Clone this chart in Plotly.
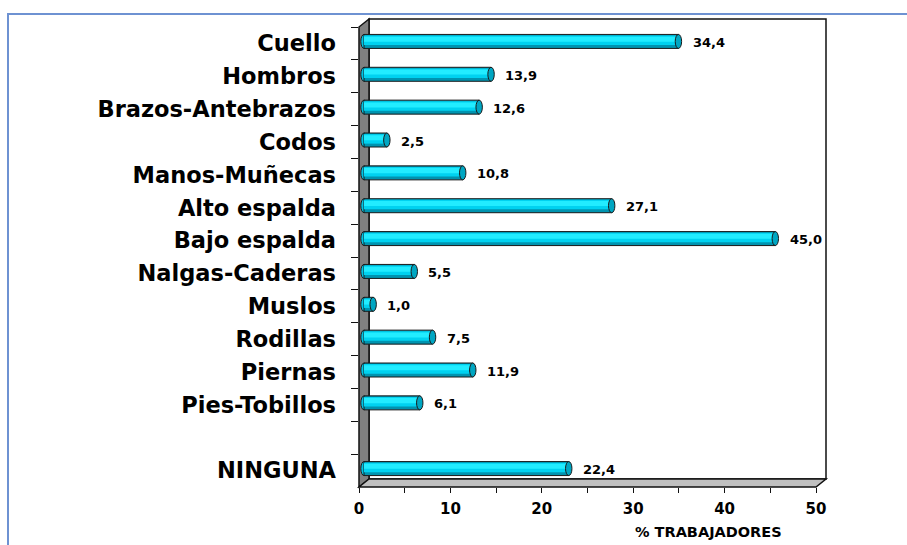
import plotly.graph_objects as go

categories = ["Cuello", "Hombros", "Brazos-Antebrazos", "Codos", "Manos-Muñecas",
              "Alto espalda", "Bajo espalda", "Nalgas-Caderas", "Muslos", "Rodillas",
              "Piernas", "Pies-Tobillos", " ", "NINGUNA"]
values = [34.4, 13.9, 12.6, 2.5, 10.8, 27.1, 45.0, 5.5, 1.0, 7.5, 11.9, 6.1, None, 22.4]
x_ticks = [0, 10, 20, 30, 40, 50]
x_title = "% TRABAJADORES"

FONT = "DejaVu Sans"
W_FIG, H_FIG = 907, 545
L, R, T, B = 359, 816, 27, 487
PW, PH = R - L, B - T
DX, DY = 10, 8          # 3D depth offset (px)
BDX, BDY = 5, 2         # bar offset (px)
XMAX = 50
n = len(categories)
ux = PW / XMAX          # px per unit
uy = PH / n             # px per category


def px(x):
    return (x - L) / PW


def py(y):
    return (B - y) / PH


def path(points):
    return "M " + " L ".join(f"{px(a)},{py(b)}" for a, b in points) + " Z"


fig = go.Figure()

# invisible trace registering categories on the front axes
fig.add_trace(go.Scatter(x=[0] * n, y=categories, mode="markers", marker=dict(opacity=0),
                         hoverinfo="skip", showlegend=False, xaxis="x", yaxis="y"))

idx = list(range(n))
bw = 14 / uy
# cylinder body layers
fig.add_trace(go.Bar(x=values, y=idx, orientation="h", width=bw,
                     marker=dict(color="#0094B0", line=dict(color="#1A1A1A", width=1)),
                     xaxis="x2", yaxis="y2", showlegend=False, hoverinfo="skip"))
fig.add_trace(go.Bar(x=values, y=idx, orientation="h", width=bw * 0.68, offset=-bw * 0.42,
                     marker=dict(color="#00D2F0", line=dict(width=0)),
                     xaxis="x2", yaxis="y2", showlegend=False, hoverinfo="skip"))
fig.add_trace(go.Bar(x=values, y=idx, orientation="h", width=bw * 0.36, offset=-bw * 0.34,
                     marker=dict(color="#22ECFF", line=dict(width=0)),
                     xaxis="x2", yaxis="y2", showlegend=False, hoverinfo="skip"))

shapes = []
# outer blue frame
shapes.append(dict(type="rect", xref="paper", yref="paper", x0=px(8), y0=py(14), x1=px(930),
                   y1=py(570), line=dict(color="#6E92D2", width=2), layer="below"))
# back wall
shapes.append(dict(type="path", xref="paper", yref="paper",
                   path=path([(L + DX, T - DY), (R + DX, T - DY), (R + DX, B - DY), (L + DX, B - DY)]),
                   fillcolor="white", line=dict(color="#111111", width=1.5), layer="below"))
# left side wall
shapes.append(dict(type="path", xref="paper", yref="paper",
                   path=path([(L, T), (L + DX, T - DY), (L + DX, B - DY), (L, B)]),
                   fillcolor="#808080", line=dict(color="#111111", width=1.5), layer="below"))
# floor
shapes.append(dict(type="path", xref="paper", yref="paper",
                   path=path([(L, B), (R, B), (R + DX, B - DY), (L + DX, B - DY)]),
                   fillcolor="#C0C0C0", line=dict(color="#111111", width=1.5), layer="below"))

cap = 3.2 / ux
annotations = []
for i, v in enumerate(values):
    if v is None:
        continue
    # left cap
    shapes.append(dict(type="circle", xref="x2", yref="y2", x0=-cap, x1=cap,
                       y0=i - bw / 2, y1=i + bw / 2, fillcolor="#00C4E4",
                       line=dict(color="#1A1A1A", width=1), layer="below"))
    # right cap
    shapes.append(dict(type="circle", xref="x2", yref="y2", x0=v - cap, x1=v + cap,
                       y0=i - bw / 2, y1=i + bw / 2, fillcolor="#00A6C2",
                       line=dict(color="#1A1A1A", width=1), layer="above"))
    annotations.append(dict(xref="x2", yref="y2", x=v + cap, y=i, xanchor="left", yanchor="middle",
                            xshift=9, yshift=-1, showarrow=False,
                            text=f"{v:.1f}".replace(".", ","),
                            font=dict(family=FONT, size=13, color="black", weight="bold")))

annotations.append(dict(xref="paper", yref="paper", x=px(708), y=py(532), xanchor="center",
                        yanchor="middle", showarrow=False, text=x_title,
                        font=dict(family=FONT, size=14.5, color="black", weight="bold")))

dxu = BDX / ux
dyu = BDY / uy
fig.update_layout(
    width=W_FIG, height=H_FIG,
    margin=dict(l=L, r=W_FIG - R, t=T, b=H_FIG - B, pad=0),
    paper_bgcolor="white", plot_bgcolor="rgba(0,0,0,0)",
    barmode="overlay", showlegend=False,
    shapes=shapes, annotations=annotations,
    xaxis=dict(range=[0, XMAX], tickvals=x_ticks, ticks="outside", ticklen=5, tickcolor="#111111",
               showgrid=False, zeroline=False, showline=False, ticklabelstandoff=3,
               minor=dict(dtick=5, ticks="outside", ticklen=5, tickcolor="#111111", showgrid=False),
               tickfont=dict(family=FONT, size=15, color="black", weight="bold"), fixedrange=True),
    yaxis=dict(type="category", categoryorder="array", categoryarray=categories,
               range=[n - 0.5, -0.5], ticks="outside", tickson="boundaries", ticklen=7,
               tickcolor="#111111", showgrid=False, zeroline=False, showline=False,
               ticklabelstandoff=22,
               tickfont=dict(family=FONT, size=22.5, color="black", weight="bold"), fixedrange=True),
    xaxis2=dict(overlaying="x", anchor="y2", range=[-dxu, XMAX - dxu], visible=False,
                fixedrange=True),
    yaxis2=dict(overlaying="y", anchor="x2", range=[n - 0.5 + dyu, -0.5 + dyu], visible=False,
                fixedrange=True),
)

fig.write_html("out.html", config={"displayModeBar": False},
               post_script="document.body.style.margin='0';document.body.style.overflow='hidden';")
